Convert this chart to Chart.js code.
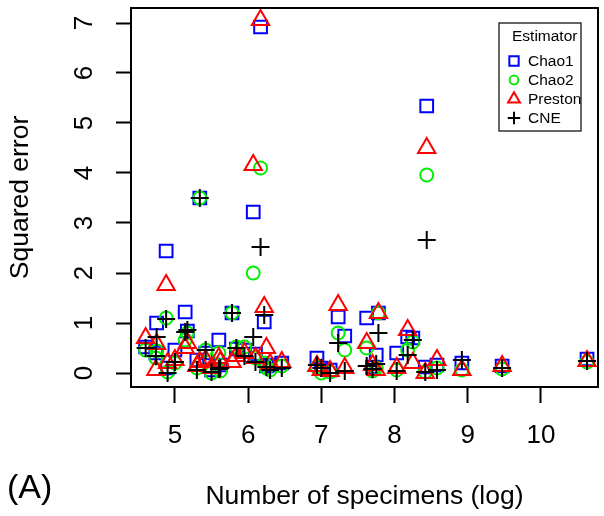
<!DOCTYPE html>
<html>
<head>
<meta charset="utf-8">
<script src="https://cdn.jsdelivr.net/npm/chart.js@4/dist/chart.umd.min.js"></script>
<style>
  html, body { margin: 0; padding: 0; background: #fff; }
  #wrap { position: relative; width: 604px; height: 516px; }
</style>
</head>
<body>
<div id="wrap"><canvas id="chart" width="604" height="516"></canvas></div>
<script>
// Data: one x position (log specimens) per site, four estimators each
const specimens = [4.60, 4.75, 4.74, 4.88, 4.90, 5.00, 5.14, 5.17, 5.34, 5.30, 5.42, 5.50, 5.60, 5.62,
  5.78, 5.84, 5.95, 6.07, 6.17, 6.22, 6.25, 6.30, 6.10, 6.46, 6.94, 7.00, 7.23, 7.32, 7.12,
  7.62, 7.78, 7.75, 7.70, 8.03, 8.18, 8.25, 8.44, 8.42, 8.58, 8.92, 9.47, 10.63];
const chao1 = [0.52, 1.00, 0.40, 2.44, 0.10, 0.46, 1.22, 0.84, 3.50, 0.26, 0.40, 0.06, 0.66, 0.16,
  1.20, 0.48, 0.46, 3.22, 6.92, 1.02, 0.14, 0.16, 0.38, 0.20, 0.30, 0.10, 1.12, 0.74, 0.06,
  1.10, 1.20, 0.36, 0.12, 0.40, 0.72, 0.70, 5.34, 0.12, 0.16, 0.20, 0.14, 0.28];
const chao2 = [0.46, 0.44, 0.30, 1.10, 0.02, 0.20, 0.66, 0.80, 3.50, 0.10, 0.46, 0.00, 0.40, 0.04,
  1.20, 0.52, 0.52, 2.00, 4.10, 0.20, 0.10, 0.06, 0.30, 0.14, 0.12, 0.00, 0.80, 0.46, 0.02,
  0.50, 1.20, 0.10, 0.04, 0.06, 0.46, 0.62, 3.96, 0.02, 0.10, 0.06, 0.08, 0.22];
const preston = [0.70, 0.58, 0.06, 1.76, 0.20, 0.26, 0.50, 0.60, 0.22, 0.14, 0.26, 0.10, 0.30, 0.22,
  0.22, 0.34, 0.40, 4.16, 7.06, 1.32, 0.50, 0.18, 0.30, 0.22, 0.14, 0.06, 1.36, 0.10, 0.04,
  0.60, 1.20, 0.06, 0.16, 0.10, 0.86, 0.20, 4.50, 0.00, 0.26, 0.06, 0.14, 0.24];
const cne = [0.50, 0.72, 0.34, 1.08, 0.00, 0.22, 0.82, 0.86, 3.50, 0.06, 0.46, 0.02, 0.08, 0.10,
  1.20, 0.50, 0.34, 0.72, 2.52, 1.16, 0.12, 0.06, 0.22, 0.10, 0.16, 0.10, 0.60, 0.04, 0.00,
  0.14, 0.80, 0.18, 0.08, 0.04, 0.36, 0.66, 2.66, 0.02, 0.06, 0.26, 0.10, 0.24];

const xTicks = [5, 6, 7, 8, 9, 10];
const yTicks = [0, 1, 2, 3, 4, 5, 6, 7];
const seriesNames = ['Chao1', 'Chao2', 'Preston', 'CNE'];

const FONT = '"Liberation Sans", Arial, Helvetica, sans-serif';

// style per estimator (R-like pch symbols)
const gaya = [
  { warna: '#0000ff', bentuk: 'rect', r: 9, rLeg: 6.6 },
  { warna: '#00ee00', bentuk: 'circle', r: 6.5, rLeg: 4.4 },
  { warna: '#ff0000', bentuk: 'triangle', r: 10, rLeg: 6.8 },
  { warna: '#000000', bentuk: 'cross', r: 9, rLeg: 6.2 },
];

const nilai = [chao1, chao2, preston, cne];

const datasets = nilai.map((arr, i) => ({
  label: seriesNames[i],
  data: specimens.map((x, j) => ({ x, y: arr[j] })),
  pointStyle: gaya[i].bentuk,
  pointRadius: gaya[i].r,
  pointBorderWidth: 2,
  borderColor: gaya[i].warna,
  backgroundColor: 'rgba(0,0,0,0)',
  showLine: false,
  order: 3 - i, // CNE drawn on top, like R's draw order
}));

// no extra label padding, so the plot box keeps its place
const tanpaPadding = (s) => {
  s.paddingTop = 0;
  s.paddingBottom = 0;
  s.paddingLeft = 0;
  s.paddingRight = 0;
};

// box round the plot, the boxed legend and the panel letter
const bingkai = {
  id: 'bingkai',
  afterDraw(chart) {
    const { ctx, chartArea: a } = chart;
    ctx.save();
    ctx.strokeStyle = '#000';
    ctx.lineWidth = 2;
    ctx.strokeRect(a.left, a.top, a.right - a.left, a.bottom - a.top);

    // legend
    const lx = a.right - 99, ly = a.top + 15, lw = 82, lh = 108;
    ctx.lineWidth = 1.2;
    ctx.strokeRect(lx, ly, lw, lh);
    ctx.fillStyle = '#000';
    ctx.font = '15.5px ' + FONT;
    ctx.textBaseline = 'middle';
    ctx.textAlign = 'left';
    ctx.fillText('Estimator', lx + 13, ly + 14);
    seriesNames.forEach((nama, i) => {
      const yy = ly + 38 + i * 19;
      ctx.strokeStyle = gaya[i].warna;
      ctx.fillStyle = 'rgba(0,0,0,0)';
      ctx.lineWidth = 2;
      Chart.helpers.drawPoint(ctx, { pointStyle: gaya[i].bentuk, radius: gaya[i].rLeg, rotation: 0, borderWidth: 2 }, lx + 15, yy);
      ctx.fillStyle = '#000';
      ctx.fillText(nama, lx + 29, yy + 1);
    });

    // panel letter
    ctx.font = '34px ' + FONT;
    ctx.textAlign = 'left';
    ctx.fillText('(A)', 7, 489);
    ctx.restore();
  },
};

const ctx = document.getElementById('chart').getContext('2d');
const chart = new Chart(ctx, {
  type: 'scatter',
  data: { datasets },
  plugins: [bingkai],
  options: {
    responsive: false,
    animation: false,
    layout: { autoPadding: false, padding: { top: 8, right: 6, left: 0, bottom: 0 } },
    plugins: {
      legend: { display: false },
      tooltip: { enabled: false },
    },
    scales: {
      x: {
        type: 'linear',
        min: 4.4,
        max: 10.78,
        afterBuildTicks: (s) => { s.ticks = xTicks.map(v => ({ value: v })); },
        afterFit: (s) => { s.height = 129; tanpaPadding(s); },
        grid: { drawOnChartArea: false, drawTicks: true, tickLength: 16, tickColor: '#000', tickWidth: 2 },
        border: { display: false },
        ticks: { color: '#000', font: { family: FONT, size: 26 }, padding: 17, maxRotation: 0 },
        title: {
          display: true,
          text: 'Number of specimens (log)',
          color: '#000',
          font: { family: FONT, size: 26.5, lineHeight: 1.2 },
          padding: { top: 0, bottom: 3 },
        },
      },
      y: {
        type: 'linear',
        min: -0.28,
        max: 7.3,
        afterBuildTicks: (s) => { s.ticks = yTicks.map(v => ({ value: v })); },
        afterFit: (s) => { s.width = 131; tanpaPadding(s); },
        grid: { drawOnChartArea: false, drawTicks: true, tickLength: 15, tickColor: '#000', tickWidth: 2 },
        border: { display: false },
        ticks: {
          color: '#000',
          font: { family: FONT, size: 26 },
          minRotation: 90,
          maxRotation: 90,
          crossAlign: 'center',
          padding: 24,
        },
        title: {
          display: true,
          text: 'Squared error',
          color: '#000',
          font: { family: FONT, size: 26.5, lineHeight: 1.2 },
          padding: { top: 5, bottom: 0 },
        },
      },
    },
  },
});
</script>
</body>
</html>
